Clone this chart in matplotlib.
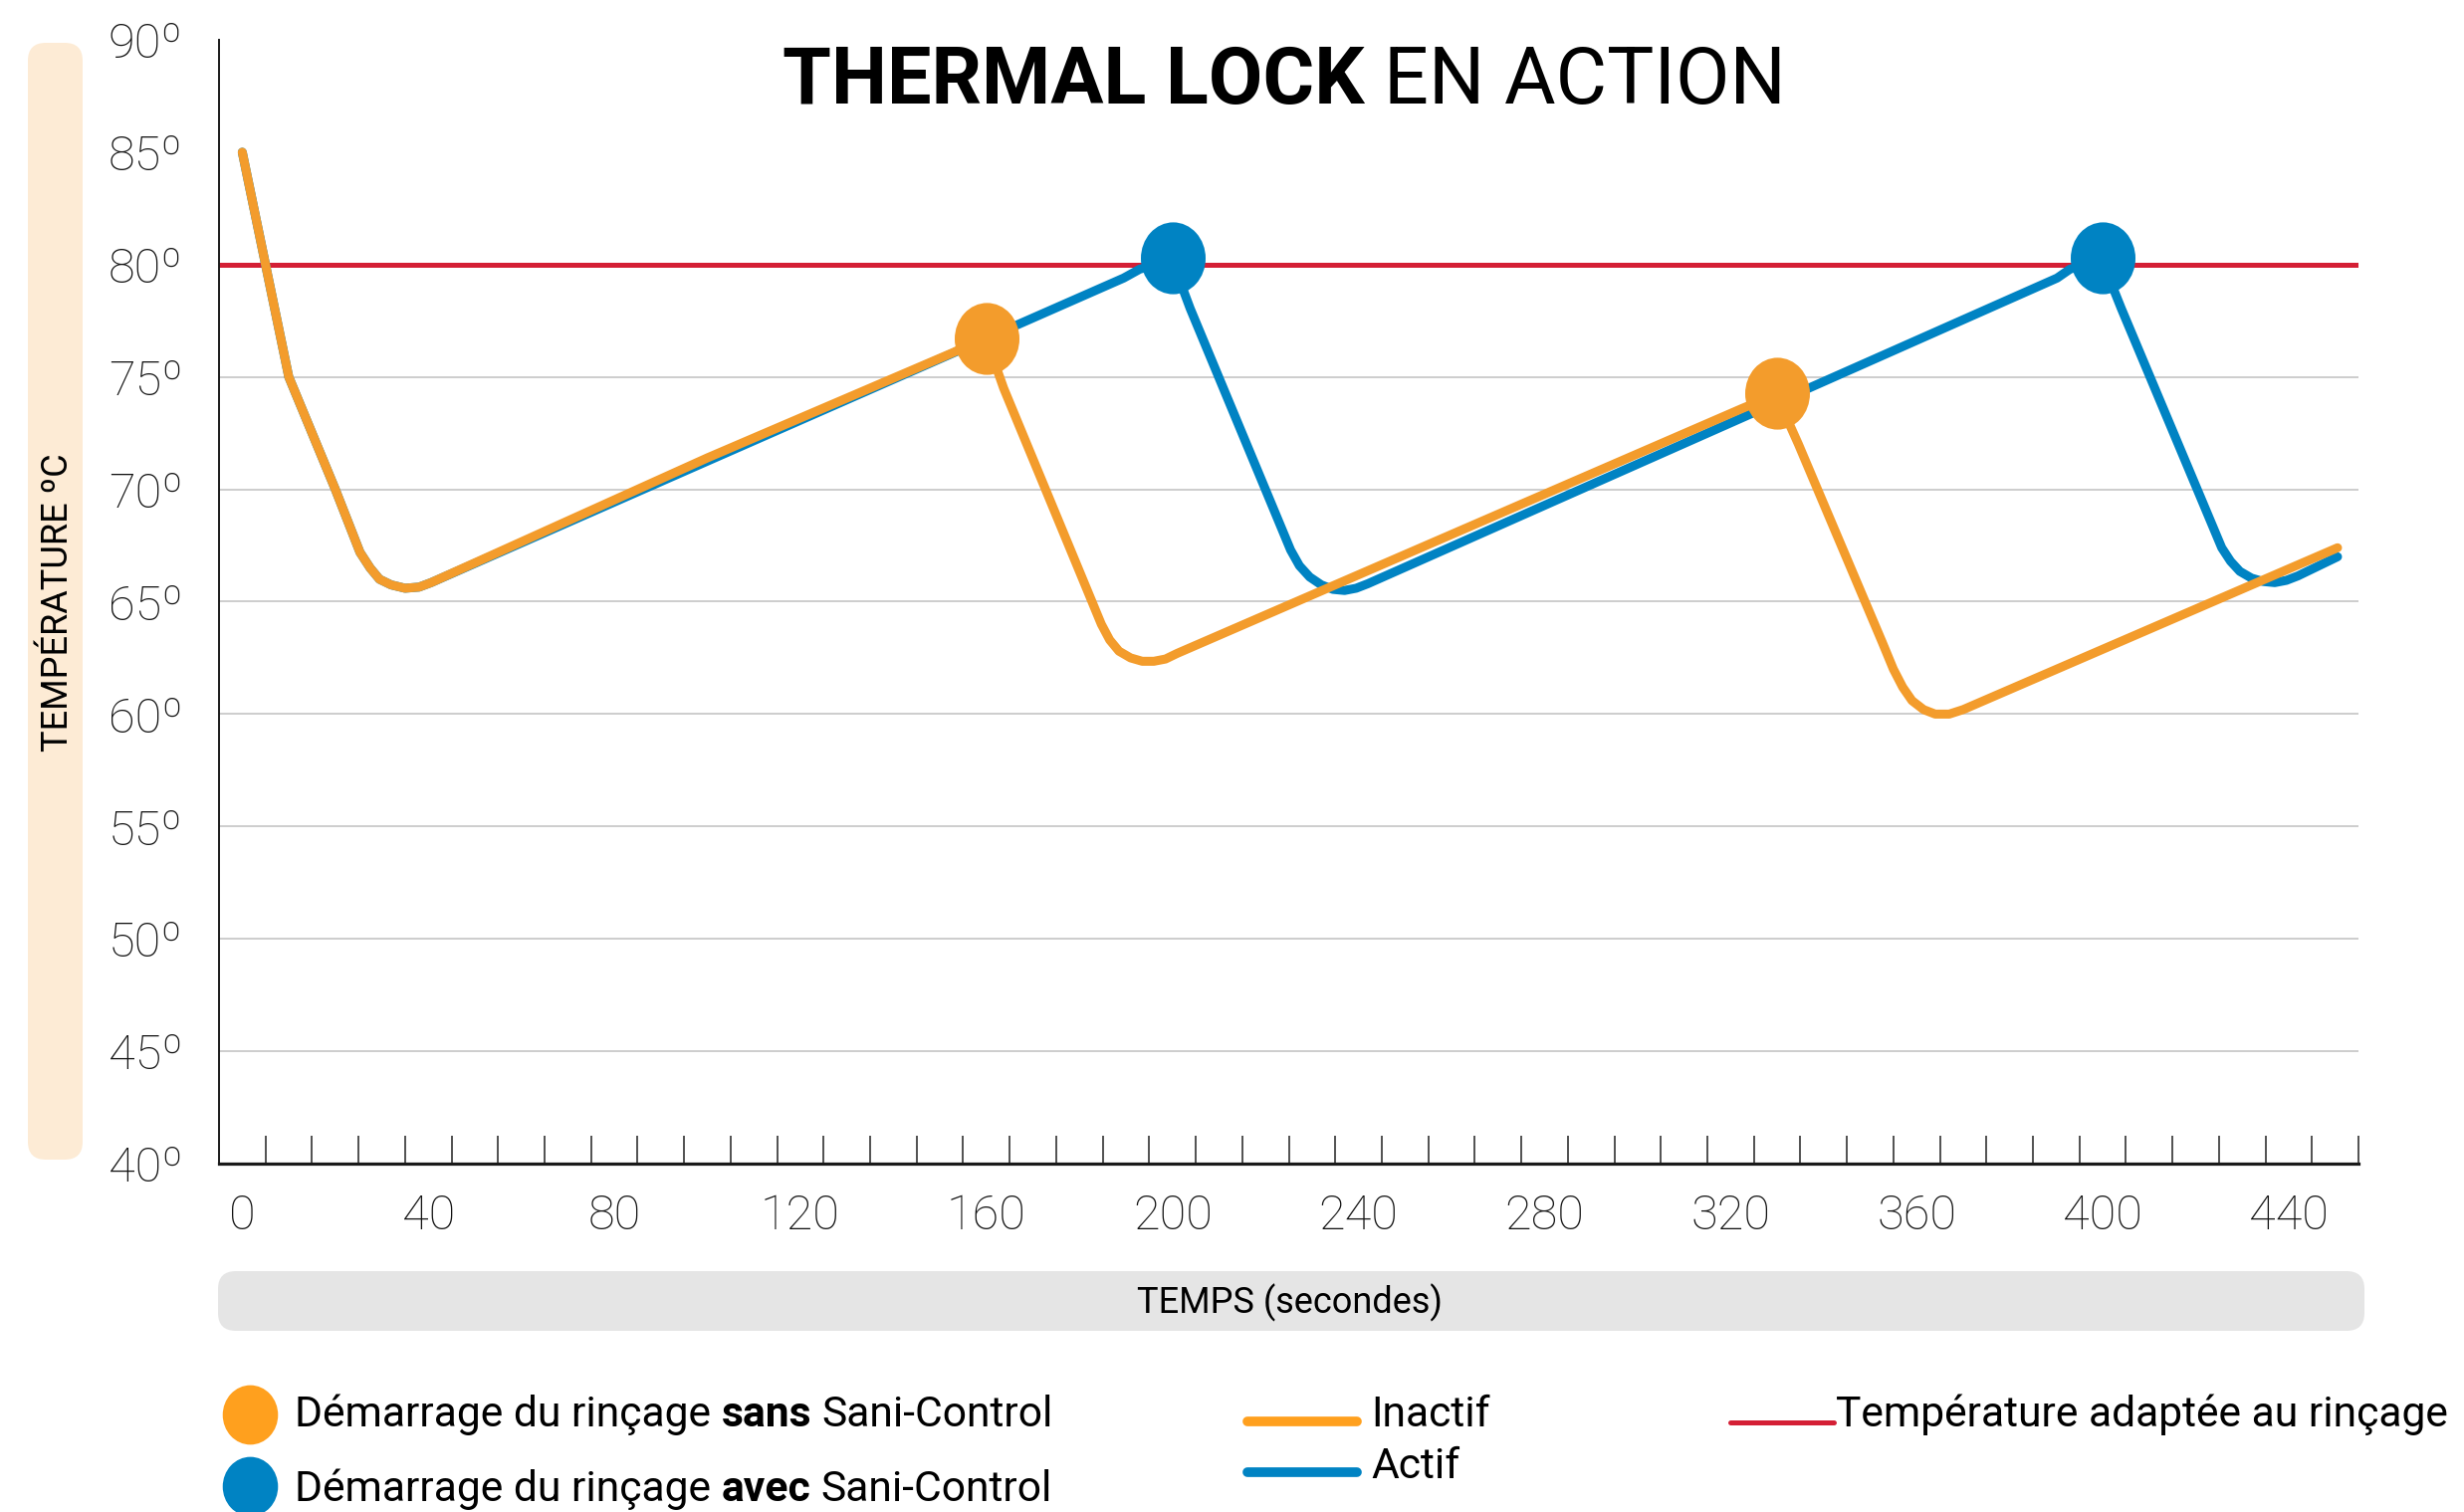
import numpy as np
import matplotlib.pyplot as plt
from matplotlib.patches import FancyBboxPatch
from matplotlib.lines import Line2D
from matplotlib.path import Path
from matplotlib.transforms import IdentityTransform

# values
inactif_sec = [0, 10, 20, 25.3, 27.5, 29.5, 32, 35, 38, 40.6, 100, 153, 156, 159, 162, 163.7,
               184.7, 186.5, 188.5, 191, 193.5, 196, 198.5, 201, 322.5, 326, 329, 332, 334.6,
               352.6, 355, 357, 359, 361.5, 364, 367, 370, 450.5]
inactif_temp = [85, 75, 70, 67.2, 66.5, 66.0, 65.75, 65.6, 65.65, 65.85, 71.4, 76.1, 76.4, 76.3, 75.5, 74.5,
                64.0, 63.3, 62.8, 62.5, 62.35, 62.35, 62.45, 62.7, 73.6, 73.9, 73.8, 73.2, 72.0,
                63.2, 62.0, 61.2, 60.6, 60.2, 60.0, 60.0, 60.2, 67.4]

actif_sec = [0, 10, 20, 25.3, 27.5, 29.5, 32, 35, 38, 40.6, 189.5, 193, 197, 201, 203.8,
             225.4, 227.3, 229.5, 232, 234.5, 237, 239.5, 242, 390.2, 393, 397, 401, 404,
             425.6, 427.5, 429.5, 432, 434.5, 437, 439.5, 442, 450.5]
actif_temp = [85, 75, 70, 67.2, 66.5, 66.0, 65.75, 65.6, 65.65, 65.85, 79.4, 79.8, 80.0, 79.6, 78.05,
              67.3, 66.6, 66.1, 65.75, 65.55, 65.5, 65.6, 65.8, 79.4, 79.8, 80.0, 79.6, 78.05,
              67.4, 66.8, 66.35, 66.05, 65.9, 65.85, 65.95, 66.15, 67.0]

rincage_sans_sec = [160, 330]
rincage_sans_temp = [76.7, 74.3]
rincage_avec_sec = [200, 400]
rincage_avec_temp = [80.3, 80.3]

seuil_rincage = 80
grid_levels = [45, 50, 55, 60, 65, 70, 75]
y_ticks = [40, 45, 50, 55, 60, 65, 70, 75, 80, 85, 90]
x_labels = [0, 40, 80, 120, 160, 200, 240, 280, 320, 360, 400, 440]

ORANGE = "#F39C2C"
ORANGE_LEG = "#FFA01E"
BLUE = "#0083C3"
RED = "#D41F35"

plt.rcParams["font.family"] = ["Roboto", "DejaVu Sans"]

W, H = 2475, 1519


def fx(px):
    return px / W


def fy(py):
    return 1 - py / H


def ellipse_marker(ratio):
    circle = Path.unit_circle()
    return Path(circle.vertices * [ratio, 1.0], circle.codes)


def rich_text(fig, x, y, parts, size, space):
    # chain text pieces so bold and regular words share one baseline
    anchor = fig.text(x, y, parts[0][0], fontsize=size, fontweight=parts[0][1],
                      va="baseline", ha="left")
    for text, weight in parts[1:]:
        anchor = fig.add_artist(plt.Annotation(
            text, xy=(1, 0), xycoords=anchor, xytext=(space, 0),
            textcoords="offset points", fontsize=size, fontweight=weight,
            va="bottom", ha="left"))
    return anchor


def rounded_box(fig, x0, y0, x1, y1, color, radius):
    box = FancyBboxPatch((x0, H - y1), x1 - x0, y1 - y0,
                         boxstyle=f"round,pad=0,rounding_size={radius}",
                         transform=IdentityTransform(), fc=color, ec="none", zorder=0)
    fig.add_artist(box)


fig = plt.figure(figsize=(W / 100, H / 100), dpi=100)
ax = fig.add_axes([fx(220), fy(1169), (2369 - 220) / W, (1169 - 40) / H])
ax.set_facecolor("none")

rounded_box(fig, 28, 43, 83, 1165, "#FDEBD5", 18)
rounded_box(fig, 219, 1277, 2375, 1337, "#E5E5E5", 18)

ax.hlines(grid_levels, -5, 455, color="#C9C9C9", lw=1.3, zorder=1)
ax.axhline(seuil_rincage, color=RED, lw=3.6, zorder=2)

ax.plot(actif_sec, actif_temp, color=BLUE, lw=6.5, solid_joinstyle="round",
        solid_capstyle="round", zorder=3)
ax.plot(inactif_sec, inactif_temp, color=ORANGE, lw=6.5, solid_joinstyle="round",
        solid_capstyle="round", zorder=4)

ax.plot(rincage_sans_sec, rincage_sans_temp, ls="none", marker=ellipse_marker(0.9),
        ms=52, color=ORANGE, mew=0, zorder=5)
ax.plot(rincage_avec_sec, rincage_avec_temp, ls="none", marker=ellipse_marker(0.9),
        ms=52, color=BLUE, mew=0, zorder=5)

ax.set_xlim(-5, 455)
ax.set_ylim(40, 90)
ax.set_yticks(y_ticks, [f"{v}º" for v in y_ticks], fontsize=35, fontweight="light")
ax.set_xticks(x_labels, [str(v) for v in x_labels], fontsize=35, fontweight="light")
ax.set_xticks(np.arange(5, 456, 10), minor=True)
ax.tick_params(axis="y", length=0, pad=26, labelcolor="#111111")
ax.tick_params(axis="x", which="major", length=0, pad=21, labelcolor="#111111")
ax.tick_params(axis="x", which="minor", direction="in", length=20, width=1.1, color="#222222")

for side in ["top", "right"]:
    ax.spines[side].set_visible(False)
ax.spines["left"].set_linewidth(1.4)
ax.spines["bottom"].set_linewidth(2.3)
ax.spines["left"].set_color("#1A1A1A")
ax.spines["bottom"].set_color("#1A1A1A")

# axis titles in their rounded boxes
fig.text(fx(58), fy(605), "TEMPÉRATURE ºC", rotation=90, ha="center", va="center", fontsize=26)
fig.text(fx(1295), fy(1309), "TEMPS (secondes)", ha="center", va="center", fontsize=26)

# title
rich_text(fig, fx(786), fy(104), [("THERMAL LOCK", "bold"), ("EN ACTION", "normal")], 57, 14)

# legend
fig.add_artist(Line2D([fx(251)], [fy(1421)], ls="none", marker=ellipse_marker(0.93),
                      ms=43, color=ORANGE_LEG, mew=0))
fig.add_artist(Line2D([fx(251)], [fy(1493)], ls="none", marker=ellipse_marker(0.93),
                      ms=43, color=BLUE, mew=0))
rich_text(fig, fx(296), fy(1433),
          [("Démarrage du rinçage", "normal"), ("sans", "bold"), ("Sani-Control", "normal")], 30.7, 7.6)
rich_text(fig, fx(296), fy(1508),
          [("Démarrage du rinçage", "normal"), ("avec", "bold"), ("Sani-Control", "normal")], 30.7, 7.6)

fig.add_artist(Line2D([fx(1253), fx(1363)], [fy(1428)] * 2, lw=7, color=ORANGE_LEG,
                      solid_capstyle="round"))
fig.add_artist(Line2D([fx(1253), fx(1363)], [fy(1479)] * 2, lw=7, color=BLUE,
                      solid_capstyle="round"))
fig.add_artist(Line2D([fx(1738), fx(1842)], [fy(1429)] * 2, lw=3.6, color=RED,
                      solid_capstyle="round"))
fig.text(fx(1377), fy(1433), "Inactif", fontsize=30.7, va="baseline")
fig.text(fx(1377), fy(1485), "Actif", fontsize=30.7, va="baseline")
fig.text(fx(1844), fy(1433), "Température adaptée au rinçage", fontsize=30.7, va="baseline")

fig.savefig("out.png", dpi=100)
